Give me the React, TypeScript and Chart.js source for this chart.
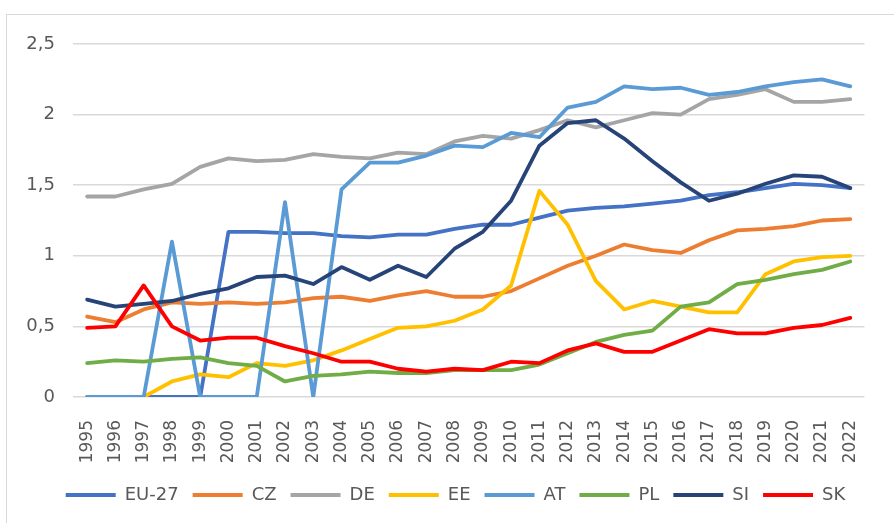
import React, { useEffect, useRef } from "react";
import { Chart, registerables } from "chart.js";

Chart.register(...registerables);

const years = [
  "1995", "1996", "1997", "1998", "1999", "2000", "2001", "2002", "2003", "2004",
  "2005", "2006", "2007", "2008", "2009", "2010", "2011", "2012", "2013", "2014",
  "2015", "2016", "2017", "2018", "2019", "2020", "2021", "2022",
];

const eu27 = [0, 0, 0, 0, 0, 1.17, 1.17, 1.16, 1.16, 1.14, 1.13, 1.15, 1.15, 1.19, 1.22, 1.22, 1.27, 1.32, 1.34, 1.35, 1.37, 1.39, 1.43, 1.45, 1.48, 1.51, 1.5, 1.48];
const cz = [0.57, 0.53, 0.62, 0.67, 0.66, 0.67, 0.66, 0.67, 0.7, 0.71, 0.68, 0.72, 0.75, 0.71, 0.71, 0.75, 0.84, 0.93, 1.0, 1.08, 1.04, 1.02, 1.11, 1.18, 1.19, 1.21, 1.25, 1.26];
const de = [1.42, 1.42, 1.47, 1.51, 1.63, 1.69, 1.67, 1.68, 1.72, 1.7, 1.69, 1.73, 1.72, 1.81, 1.85, 1.83, 1.89, 1.96, 1.91, 1.96, 2.01, 2.0, 2.11, 2.14, 2.18, 2.09, 2.09, 2.11];
const ee = [0, 0, 0, 0.11, 0.16, 0.14, 0.24, 0.22, 0.26, 0.33, 0.41, 0.49, 0.5, 0.54, 0.62, 0.79, 1.46, 1.22, 0.82, 0.62, 0.68, 0.64, 0.6, 0.6, 0.87, 0.96, 0.99, 1.0];
const at = [0, 0, 0, 1.1, 0, 0, 0, 1.38, 0, 1.47, 1.66, 1.66, 1.71, 1.78, 1.77, 1.87, 1.84, 2.05, 2.09, 2.2, 2.18, 2.19, 2.14, 2.16, 2.2, 2.23, 2.25, 2.2];
const pl = [0.24, 0.26, 0.25, 0.27, 0.28, 0.24, 0.22, 0.11, 0.15, 0.16, 0.18, 0.17, 0.17, 0.19, 0.19, 0.19, 0.23, 0.31, 0.39, 0.44, 0.47, 0.64, 0.67, 0.8, 0.83, 0.87, 0.9, 0.96];
const si = [0.69, 0.64, 0.66, 0.68, 0.73, 0.77, 0.85, 0.86, 0.8, 0.92, 0.83, 0.93, 0.85, 1.05, 1.17, 1.39, 1.78, 1.94, 1.96, 1.83, 1.67, 1.52, 1.39, 1.44, 1.51, 1.57, 1.56, 1.48];
const sk = [0.49, 0.5, 0.79, 0.5, 0.4, 0.42, 0.42, 0.36, 0.31, 0.25, 0.25, 0.2, 0.18, 0.2, 0.19, 0.25, 0.24, 0.33, 0.38, 0.32, 0.32, 0.4, 0.48, 0.45, 0.45, 0.49, 0.51, 0.56];

const seriesNames = ["EU-27", "CZ", "DE", "EE", "AT", "PL", "SI", "SK"];
const seriesValues = [eu27, cz, de, ee, at, pl, si, sk];
const seriesColors = ["#4472C4", "#ED7D31", "#A5A5A5", "#FFC000", "#5B9BD5", "#70AD47", "#264478", "#FF0000"];

const yMin = 0;
const yMax = 2.5;
const yStep = 0.5;

const FONT = "'DejaVu Sans', Verdana, sans-serif";
const TEXT = "#595959";
const GRID = "#d9d9d9";

const legendShift = {
  id: "legendShift",
  afterLayout(chart: any) {
    const l = chart.legend;
    if (l) {
      l.left += 5;
      l.right += 5;
    }
  },
};

export default function App() {
  const ref = useRef<HTMLCanvasElement | null>(null);

  useEffect(() => {
    if (!ref.current) return;
    const n = seriesNames.length;
    const chart = new Chart(ref.current, {
      type: "line",
      data: {
        labels: years,
        datasets: seriesNames.map((name, i) => ({
          label: name,
          data: seriesValues[i],
          borderColor: seriesColors[i],
          backgroundColor: seriesColors[i],
          borderWidth: 3.8,
          pointRadius: 0,
          pointHoverRadius: 0,
          tension: 0,
          fill: false,
          borderJoinStyle: "round" as const,
          borderCapStyle: "round" as const,
          order: n - i,
        })),
      },
      plugins: [legendShift],
      options: {
        animation: false,
        responsive: false,
        maintainAspectRatio: false,
        layout: { padding: { left: 24, right: 17, top: 44, bottom: 9 } },
        plugins: {
          tooltip: { enabled: false },
          legend: {
            position: "bottom",
            labels: {
              usePointStyle: true,
              pointStyle: "line",
              pointStyleWidth: 50,
              padding: 14,
              color: TEXT,
              font: { family: FONT, size: 18 },
              sort: (a: any, b: any) => a.datasetIndex - b.datasetIndex,
            },
          },
        },
        scales: {
          x: {
            offset: true,
            grid: { display: false, drawTicks: false },
            border: { display: false },
            ticks: {
              minRotation: 90,
              maxRotation: 90,
              autoSkip: false,
              padding: 23,
              color: TEXT,
              font: { family: FONT, size: 17 },
            },
            afterFit: (scale: any) => {
              scale.height = 75;
            },
          },
          y: {
            min: yMin,
            max: yMax,
            grid: { color: GRID, lineWidth: 1.5, drawTicks: false },
            border: { display: false },
            ticks: {
              stepSize: yStep,
              padding: 18,
              color: TEXT,
              font: { family: FONT, size: 18 },
              callback: (v: any) => String(Number(v)).replace(".", ","),
            },
            afterFit: (scale: any) => {
              scale.width = 49;
            },
          },
        },
      },
    });
    return () => chart.destroy();
  }, []);

  return (
    <div
      style={{
        position: "absolute",
        left: 0,
        top: 0,
        width: 894,
        height: 523,
        overflow: "hidden",
        background: "#ffffff",
      }}
    >
      <div
        style={{
          position: "absolute",
          left: 6,
          top: 14,
          width: 1000,
          height: 1000,
          borderLeft: "1.5px solid #d9d9d9",
          borderTop: "1.5px solid #d9d9d9",
        }}
      />
      <canvas
        ref={ref}
        width={894}
        height={523}
        style={{ position: "absolute", left: 0, top: 0, width: 894, height: 523 }}
      />
    </div>
  );
}
